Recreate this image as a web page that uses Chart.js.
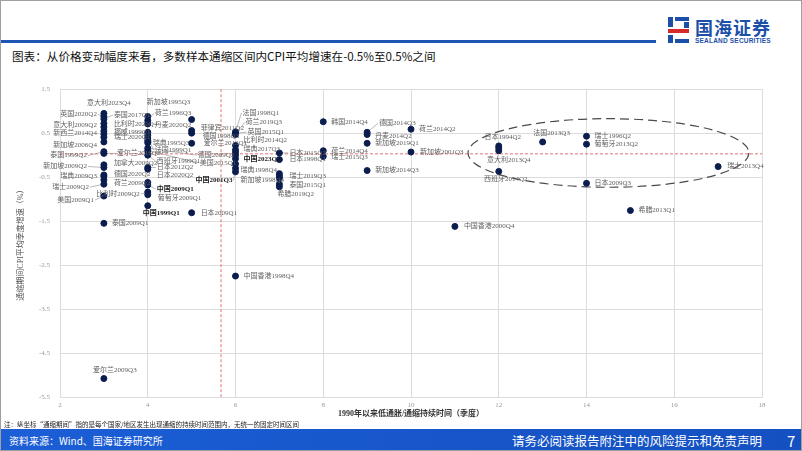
<!DOCTYPE html>
<html>
<head>
<meta charset="utf-8">
<script src="https://cdn.jsdelivr.net/npm/chart.js@4.4.1/dist/chart.umd.min.js"></script>
<style>
body{margin:0;width:802px;height:451px;overflow:hidden;background:#fff;position:relative;font-family:"Noto Sans CJK SC",sans-serif}
#frame{position:absolute;left:0;top:0;width:800px;height:449px;border:1px solid #a0a0a0;pointer-events:none}
#topline{position:absolute;left:0;top:40px;width:656px;height:3px;background:#1f56b4}
#title{position:absolute;left:12px;top:48px;font-size:11.6px;color:#111;white-space:nowrap}
.logo{position:absolute}
#logoText{left:695px;top:14px;font-size:18px;font-weight:bold;color:#1c4fa8;letter-spacing:1px}
#logoSub{left:695px;top:37px;font-size:6.5px;font-weight:bold;color:#1c4fa8;font-family:"Liberation Sans",sans-serif;letter-spacing:0.2px}
#note{position:absolute;left:4px;top:419px;font-size:6.5px;color:#222;white-space:nowrap}
#footer{position:absolute;left:0;top:429px;width:802px;height:22px;background:linear-gradient(90deg,#1b5ed6,#1450c0)}
#src{position:absolute;left:9px;top:433px;font-size:10px;color:#fff}
#disc{position:absolute;left:512px;top:431px;font-size:12.5px;color:#fff;white-space:nowrap}
#page{position:absolute;left:787px;top:430px;font-size:15px;color:#fff}
#wrap{position:absolute;left:0;top:75px;width:802px;height:347px}
</style>
</head>
<body>
<div id="topline"></div>
<div class="logo" style="left:668px;top:17px;width:5px;height:10px;background:#1c4fa8"></div>
<div class="logo" style="left:675px;top:17px;width:14px;height:4px;background:#1c4fa8"></div>
<div class="logo" style="left:668px;top:29px;width:21px;height:4px;background:#d62b2b"></div>
<div class="logo" style="left:668px;top:35px;width:5px;height:8px;background:#1c4fa8"></div>
<div class="logo" style="left:675px;top:39px;width:14px;height:4px;background:#1c4fa8"></div>
<div class="logo" style="left:684px;top:22px;width:5px;height:6px;background:#1c4fa8"></div>
<div class="logo" id="logoText">国海证券</div>
<div class="logo" id="logoSub">SEALAND SECURITIES</div>
<div id="title">图表：从价格变动幅度来看，多数样本通缩区间内CPI平均增速在-0.5%至0.5%之间</div>
<div id="wrap"><canvas id="c"></canvas></div>
<div id="note">注：纵坐标“通缩期间”指的是每个国家/地区发生出现通缩的持续时间范围内，无统一的固定时间区间</div>
<div id="footer"></div>
<div id="src">资料来源：Wind、国海证券研究所</div>
<div id="disc">请务必阅读报告附注中的风险提示和免责声明</div>
<div id="page">7</div>
<div id="frame"></div>
<script>
// 样本：国家/地区 + 通缩起始季度
var names = [
  "意大利2023Q4","英国2020Q2","泰国2017Q1","比利时2020Q4","意大利2009Q2","挪威1999Q1","新西兰2014Q4","瑞士2020Q1","新加坡2006Q4","泰国1999Q2",
  "爱尔兰2016Q2","加拿大2009Q2","新加坡2009Q2","德国2020Q2","瑞典2009Q3","荷兰2009Q2","瑞士2009Q2","美国2009Q1","泰国2009Q1","爱尔兰2009Q3",
  "新加坡1995Q3","荷兰1996Q3","丹麦2020Q2","瑞典1995Q3","","法国1999Q1","","","德国2009Q2","美国2015Q1",
  "西班牙1999Q1","日本2012Q2","日本2020Q2","","中国2009Q1","比利时2009Q2","葡萄牙2009Q1","中国1999Q1",
  "","菲律宾2011Q2","德国1998Q3","爱尔兰2013Q1","日本2009Q1",
  "法国1998Q1","荷兰2019Q3","英国2015Q1","比利时2014Q2","瑞典2017Q3","","中国2023Q2","","瑞典1998Q4","中国2001Q3","新加坡1998Q4","中国香港1998Q4",
  "日本2015Q2","日本1998Q1","","瑞士2019Q3","","泰国2015Q1","希腊2019Q2",
  "韩国2014Q4","荷兰2014Q4","瑞士2015Q3",
  "德国2014Q3","丹麦2014Q2","新加坡2019Q1","新加坡2014Q3",
  "荷兰2014Q2","新加坡2001Q3","中国香港2000Q4",
  "日本1994Q2","","意大利2013Q4","西班牙2014Q2","法国2013Q3",
  "瑞士1996Q2","葡萄牙2013Q2","日本2009Q3","希腊2013Q1","瑞士2013Q4"
];
// 1990年以来低通胀/通缩持续时间（季度）
var durations = [
  3,3,3,3,3,3,3,3,3,3, 3,3,3,3,3,3,3,3,3,3,
  4,4,4,4,4,4,4,4,4,4, 4,4,4,4,4,4,4,4,
  5,5,5,5,5,
  6,6,6,6,6,6,6,6,6,6,6,6,
  7,7,7,7,7,7,7,
  8,8,8,
  9,9,9,9,
  10,10,11,
  12,12,12,12,13,
  14,14,14,15,17
];
// 通缩期间CPI平均季度增速（%）
var cpiAvg = [
  0.95,0.88,0.82,0.72,0.64,0.55,0.48,0.41,0.30,0.08,
  0.04,-0.22,-0.28,-0.45,-0.48,-0.56,-0.66,-0.93,-1.55,-5.08,
  0.88,0.79,0.71,0.52,0.45,0.39,0.33,0.28,0.16,0.10,
  0.00,-0.28,-0.32,-0.62,-0.68,-0.84,-0.90,-1.15,
  0.81,0.56,0.50,0.27,-1.31,
  0.53,0.47,0.50,0.22,0.12,0.06,0.00,-0.08,-0.20,-0.30,-0.38,-2.75,
  0.05,-0.10,-0.42,-0.47,-0.52,-0.66,-0.72,
  0.76,0.10,-0.03,
  0.52,0.47,0.27,-0.35,
  0.59,0.07,-1.62,
  0.21,0.16,0.10,-0.37,0.30,
  0.43,0.25,-0.64,-1.26,-0.26
];
var xTicks = [2,4,6,8,10,12,14,16,18];
var yTicks = [1.5,0.5,-0.5,-1.5,-2.5,-3.5,-4.5,-5.5];
// 样本均值（红色虚线）
var avgDuration = 5.67;
var avgCpi = 0.03;
// 圈出的长期通缩样本（中心、半径，数据单位）
var ellipseCenter = [14.5, 0.05];
var ellipseRadius = [3.2, 0.78];

// 标签摆放：[dx, dy, 对齐, 引线]
var labelPlace = [
  [5,-10,'c',0],[-7,-2,'r',1],[10,-4,'l',1],[10,1,'l',0],[-7,-2,'r',0],[10,1,'l',0],[-7,-1,'r',0],[10,0,'l',0],[-7,3,'r',0],[-17,4,'r',1],
  [13,0,'l',1],[10,-2,'l',0],[-17,-1,'r',1],[10,-1,'l',0],[-7,0,'r',0],[10,3,'l',0],[-15,3,'r',1],[-10,4,'r',1],[8,0,'l',0],[11,-8,'c',0],
  [-1,-14,'l',0],[7,-7,'l',1],[7,1,'l',0],[5,11,'l',1],null,[7,12,'l',1],null,null,[50,7,'l',1],[52,12,'l',1],
  [9,6,'l',1],[9,0,'l',1],[9,6,'l',0],null,[9,4,'l',1],[-8,2,'r',1],[10,3,'l',0],[-5,7,'l',0],
  null,[9,-2,'l',0],[11,3,'l',0],[12,0,'l',0],[9,0,'l',0],
  [7,-19,'l',1],[10,-12,'l',1],[12,-1,'l',1],[8,-5,'l',0],[8,-1,'l',0],null,[8,4,'l',0],null,[5,6,'l',0],[-3,12,'r',1],[5,8,'l',0],[8,0,'l',0],
  [10,0,'l',1],[10,0,'l',0],null,[10,0,'l',0],null,[10,1,'l',0],[-2,7,'l',0],
  [8,0,'l',0],[8,0,'l',0],[8,1,'l',0],
  [12,-9,'l',1],[8,2,'l',0],[8,0,'l',0],[8,0,'l',0],
  [8,0,'l',0],[9,0,'l',0],[9,0,'l',0],
  [4,-9,'c',0],null,[10,9,'c',0],[7,8,'c',0],[9,-9,'c',0],
  [8,0,'l',0],[8,0,'l',0],[8,0,'l',0],[8,0,'l',0],[9,0,'l',0]
];

var serif = '"Liberation Serif", "Noto Sans CJK SC", serif';

var overlay = {
  id: 'overlay',
  beforeDatasetsDraw: function(chart) {
    var ctx = chart.ctx, a = chart.chartArea;
    var xs = chart.scales.x, ys = chart.scales.y;
    ctx.save();
    // 均值虚线
    ctx.strokeStyle = '#d9534f';
    ctx.lineWidth = 0.8;
    ctx.setLineDash([3, 2]);
    var vx = xs.getPixelForValue(avgDuration), hy = ys.getPixelForValue(avgCpi);
    ctx.beginPath(); ctx.moveTo(vx, a.top); ctx.lineTo(vx, a.bottom); ctx.stroke();
    ctx.beginPath(); ctx.moveTo(a.left, hy); ctx.lineTo(a.right, hy); ctx.stroke();
    // 椭圆
    var cx = xs.getPixelForValue(ellipseCenter[0]), cy = ys.getPixelForValue(ellipseCenter[1]);
    var rx = xs.getPixelForValue(ellipseCenter[0] + ellipseRadius[0]) - cx;
    var ry = cy - ys.getPixelForValue(ellipseCenter[1] + ellipseRadius[1]);
    ctx.strokeStyle = '#4a4a4a';
    ctx.lineWidth = 1.2;
    ctx.setLineDash([9, 5]);
    ctx.beginPath(); ctx.ellipse(cx, cy, rx, ry, 0, 0, Math.PI * 2); ctx.stroke();
    // 引线
    ctx.setLineDash([]);
    ctx.strokeStyle = '#8a8a8a';
    ctx.lineWidth = 0.6;
    chart.getDatasetMeta(0).data.forEach(function(pt, i) {
      var p = labelPlace[i];
      if (!names[i] || !p || !p[3]) return;
      var lx = pt.x + p[0], ly = pt.y + p[1];
      ctx.beginPath(); ctx.moveTo(pt.x, pt.y);
      ctx.lineTo(p[2] === 'r' ? lx + 1 : lx - 1, ly); ctx.stroke();
    });
    ctx.restore();
  },
  afterDatasetsDraw: function(chart) {
    var ctx = chart.ctx;
    ctx.save();
    ctx.textBaseline = 'middle';
    chart.getDatasetMeta(0).data.forEach(function(pt, i) {
      var name = names[i], p = labelPlace[i];
      if (!name || !p) return;
      var bold = name.indexOf('中国') === 0 && name.indexOf('中国香港') !== 0;
      ctx.font = (bold ? 'bold ' : '') + '7px ' + serif;
      ctx.fillStyle = bold ? '#1a1a1a' : '#606060';
      ctx.textAlign = p[2] === 'l' ? 'left' : (p[2] === 'r' ? 'right' : 'center');
      ctx.fillText(name, pt.x + p[0], pt.y + p[1]);
    });
    ctx.restore();
  }
};

var points = durations.map(function(d, i) { return {x: d, y: cpiAvg[i]}; });

new Chart(document.getElementById('c'), {
  type: 'scatter',
  data: {
    datasets: [{
      data: points,
      backgroundColor: '#0b1d4f',
      borderColor: '#0b1d4f',
      pointRadius: 3
    }]
  },
  options: {
    responsive: true,
    maintainAspectRatio: false,
    animation: false,
    layout: {padding: {top: 8, right: 40, left: 10, bottom: 0}},
    plugins: {legend: {display: false}, tooltip: {enabled: false}},
    scales: {
      x: {
        type: 'linear', min: 2, max: 18,
        afterBuildTicks: function(axis) { axis.ticks = xTicks.map(function(v) { return {value: v}; }); },
        afterFit: function(axis) { axis.height = 25; },
        grid: {color: '#dcdcdc', drawTicks: false},
        border: {color: '#dcdcdc'},
        ticks: {padding: 4, color: '#999', font: {size: 7, family: serif}},
        title: {display: true, text: '1990年以来低通胀/通缩持续时间（季度）', color: '#333',
                font: {size: 8, family: serif, weight: 'bold'}, padding: {top: 0, bottom: 3}}
      },
      y: {
        type: 'linear', min: -5.5, max: 1.5,
        afterBuildTicks: function(axis) { axis.ticks = yTicks.map(function(v) { return {value: v}; }); },
        afterFit: function(axis) { axis.width = 50; },
        grid: {color: '#dcdcdc', drawTicks: false},
        border: {color: '#dcdcdc'},
        ticks: {padding: 10, color: '#999', font: {size: 7, family: serif},
                callback: function(v) { return v.toFixed(1); }},
        title: {display: true, text: '通缩期间CPI平均季度增速（%）', color: '#555',
                font: {size: 8, family: serif}, padding: {top: 6, bottom: 0}}
      }
    }
  },
  plugins: [overlay]
});
</script>
</body>
</html>
